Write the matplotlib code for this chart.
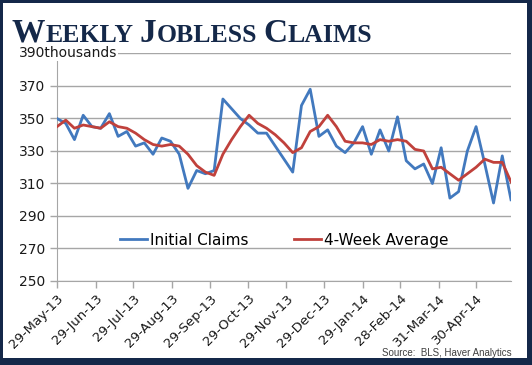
import datetime as dt
import matplotlib
matplotlib.use("Agg")
import matplotlib.pyplot as plt
from matplotlib.patches import Rectangle

# weekly data, thousands
first_week = dt.date(2013, 5, 29)
initial_claims = [350, 347, 337, 352, 345, 344, 353, 339, 342, 333,
                  335, 328, 338, 336, 328, 307, 318, 316, 318, 362,
                  356, 350, 346, 341, 341, 333, 325, 317, 358, 368,
                  339, 343, 333, 329, 335, 345, 328, 343, 330, 351,
                  324, 319, 322, 310, 332, 301, 305, 330, 345, 322,
                  298, 327, 300]
four_week_avg = [345, 349, 344, 346, 345, 344, 348, 345, 344, 341,
                 337, 334, 333, 334, 333, 328, 321, 317, 315, 328,
                 337, 345, 352, 347, 344, 340, 335, 329, 332, 342,
                 345, 352, 345, 336, 335, 335, 334, 337, 336, 337,
                 336, 331, 330, 319, 320, 316, 312, 316, 320, 325,
                 323, 323, 311]
tick_days = ["2013-05-29", "2013-06-29", "2013-07-29", "2013-08-29",
             "2013-09-29", "2013-10-29", "2013-11-29", "2013-12-29",
             "2014-01-29", "2014-02-28", "2014-03-31", "2014-04-30"]
y_ticks = [250, 270, 290, 310, 330, 350, 370, 390]

weeks = [first_week + dt.timedelta(weeks=i) for i in range(len(initial_claims))]
tick_dates = [dt.date.fromisoformat(d) for d in tick_days]

navy = "#142849"
blue = "#4279be"
red = "#c0413c"
grid_grey = "#a6a6a6"

fig = plt.figure(figsize=(5.32, 3.65), dpi=100)
fig.patch.set_facecolor(navy)
W, H = 532, 365
# white card inside the dark frame
fig.patches.append(Rectangle((3 / W, 7 / H), (W - 8) / W, (H - 10) / H,
                             transform=fig.transFigure, facecolor="white",
                             edgecolor="none", zorder=-5))

ax = fig.add_axes([57 / W, 1 - 281 / H, (511 - 57) / W, (281 - 53.5) / H])
ax.set_facecolor("none")

ax.plot(weeks, initial_claims, color=blue, lw=2.0, label="Initial Claims", zorder=3)
ax.plot(weeks, four_week_avg, color=red, lw=2.0, label="4-Week Average", zorder=4)

ax.set_xlim(weeks[0], weeks[-1])
ax.set_ylim(250, 390)
ax.set_yticks(y_ticks)
# top label is written separately with its unit
ax.set_yticklabels([str(v) for v in y_ticks[:-1]] + [""])
ax.set_xticks(tick_dates)
ax.set_xticklabels([d.strftime("%d-%b-%y") for d in tick_dates],
                   rotation=45, ha="right", rotation_mode="anchor", fontsize=9.5)

ax.grid(axis="y", color=grid_grey, lw=1.0)
ax.set_axisbelow(True)
for s in ["top", "right"]:
    ax.spines[s].set_visible(False)
ax.spines["left"].set_color(grid_grey)
ax.spines["bottom"].set_color(grid_grey)
ax.tick_params(axis="both", colors=grid_grey, length=5, width=1,
               labelcolor="#1a1a1a")
ax.tick_params(axis="y", labelsize=10)
ax.tick_params(axis="x", pad=3)

ax.text((19 - 57) / 454, y_ticks[-1], f"{y_ticks[-1]}thousands",
        transform=ax.get_yaxis_transform(), ha="left", va="center",
        fontsize=10, color="#1a1a1a",
        bbox=dict(facecolor="white", edgecolor="none", pad=0.5), zorder=5)

leg = ax.legend(loc="center", bbox_to_anchor=(0.5, (275.2 - 250) / 140),
                ncol=2, frameon=False, fontsize=11, handlelength=1.75,
                handletextpad=0.2, columnspacing=3.0)

# title in small caps
fig.canvas.draw()
renderer = fig.canvas.get_renderer()
x = 12 / W
base_y = 1 - 42 / H
pieces = [("W", 24), ("EEKLY", 18.5), (" ", 18.5), ("J", 24), ("OBLESS", 18.5),
          (" ", 18.5), ("C", 24), ("LAIMS", 18.5)]
for txt, size in pieces:
    t = fig.text(x, base_y, txt, fontsize=size, fontweight="bold",
                 family="Liberation Serif", color=navy, va="baseline", ha="left")
    bb = t.get_window_extent(renderer)
    x += bb.width / W

fig.text(512 / W, 1 - 353 / H, "Source:  BLS, Haver Analytics",
         family=["Liberation Sans Narrow", "Liberation Sans"], fontsize=7,
         color="#404040", ha="right", va="center")

fig.savefig("out.png", dpi=100, facecolor=fig.get_facecolor())
